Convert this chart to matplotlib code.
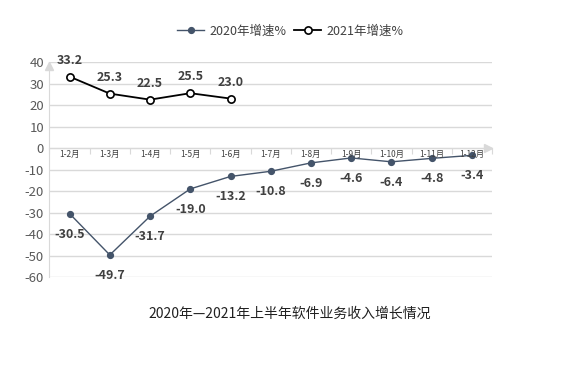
import matplotlib.pyplot as plt
import numpy as np

plt.rcParams['font.family'] = ['Noto Sans CJK SC', 'DejaVu Sans']

months = ['1-2月', '1-3月', '1-4月', '1-5月', '1-6月', '1-7月',
          '1-8月', '1-9月', '1-10月', '1-11月', '1-12月']
growth_2020 = [-30.5, -49.7, -31.7, -19.0, -13.2, -10.8, -6.9, -4.6, -6.4, -4.8, -3.4]
growth_2021 = [33.2, 25.3, 22.5, 25.5, 23.0]
yticks = [40, 30, 20, 10, 0, -10, -20, -30, -40, -50, -60]

fig = plt.figure(figsize=(5.8, 3.68), dpi=100)
ax = fig.add_axes([0.0853, 0.247, 0.763, 0.5845])

x20 = np.arange(len(growth_2020))
x21 = np.arange(len(growth_2021))

ax.plot(x20, growth_2020, color='#44546A', lw=1.0, marker='o', markersize=4.2,
        label='2020年增速%', zorder=3)
ax.plot(x21, growth_2021, color='black', lw=1.3, marker='o', markersize=5.2,
        markerfacecolor='white', markeredgecolor='black', markeredgewidth=1.2,
        label='2021年增速%', zorder=3)

for x, v in zip(x20, growth_2020):
    ax.annotate(f'{v:.1f}', (x, v), xytext=(0, -10), textcoords='offset points',
                ha='center', va='top', fontsize=9, fontweight='bold', color='#404040')
for x, v in zip(x21, growth_2021):
    ax.annotate(f'{v:.1f}', (x, v), xytext=(0, 7), textcoords='offset points',
                ha='center', va='bottom', fontsize=9, fontweight='bold', color='#404040')

# category labels sit just under the zero line
for i, m in enumerate(months):
    ax.text(i, -1.0, m, ha='center', va='top', fontsize=6, color='#404040')

ax.set_xlim(-0.5, len(months) - 0.5)
ax.set_ylim(-60, 40)
ax.set_yticks(yticks)
ax.set_yticklabels([str(t) for t in yticks], fontsize=9.5, color='#595959')
ax.tick_params(axis='y', length=0, pad=4)
ax.set_xticks(np.arange(len(months) + 1) - 0.5)
ax.set_xticklabels([])
ax.tick_params(axis='x', length=4, color='#d9d9d9', direction='out')
ax.grid(axis='y', color='#d9d9d9', lw=1.0)
ax.set_axisbelow(True)

for s in ['top', 'right']:
    ax.spines[s].set_visible(False)
ax.spines['bottom'].set_position(('data', 0))
ax.spines['bottom'].set_color('#d9d9d9')
ax.spines['left'].set_color('#d9d9d9')

# axis arrow heads
ax.plot([0], [0.98], transform=ax.transAxes, marker='^', markersize=6,
        color='#d9d9d9', clip_on=False)
ax.plot([0.99], [0.6], transform=ax.transAxes, marker='>', markersize=6,
        color='#d9d9d9', clip_on=False)

fig.legend(loc='center', bbox_to_anchor=(0.5, 0.915), ncol=2, frameon=False,
           fontsize=9, handlelength=2.2, columnspacing=0.6, handletextpad=0.4,
           labelcolor='#404040')

fig.text(0.5, 0.147, '2020年—2021年上半年软件业务收入增长情况', ha='center',
         va='center', fontsize=10, color='#202020')

fig.savefig('out.png', dpi=100)
